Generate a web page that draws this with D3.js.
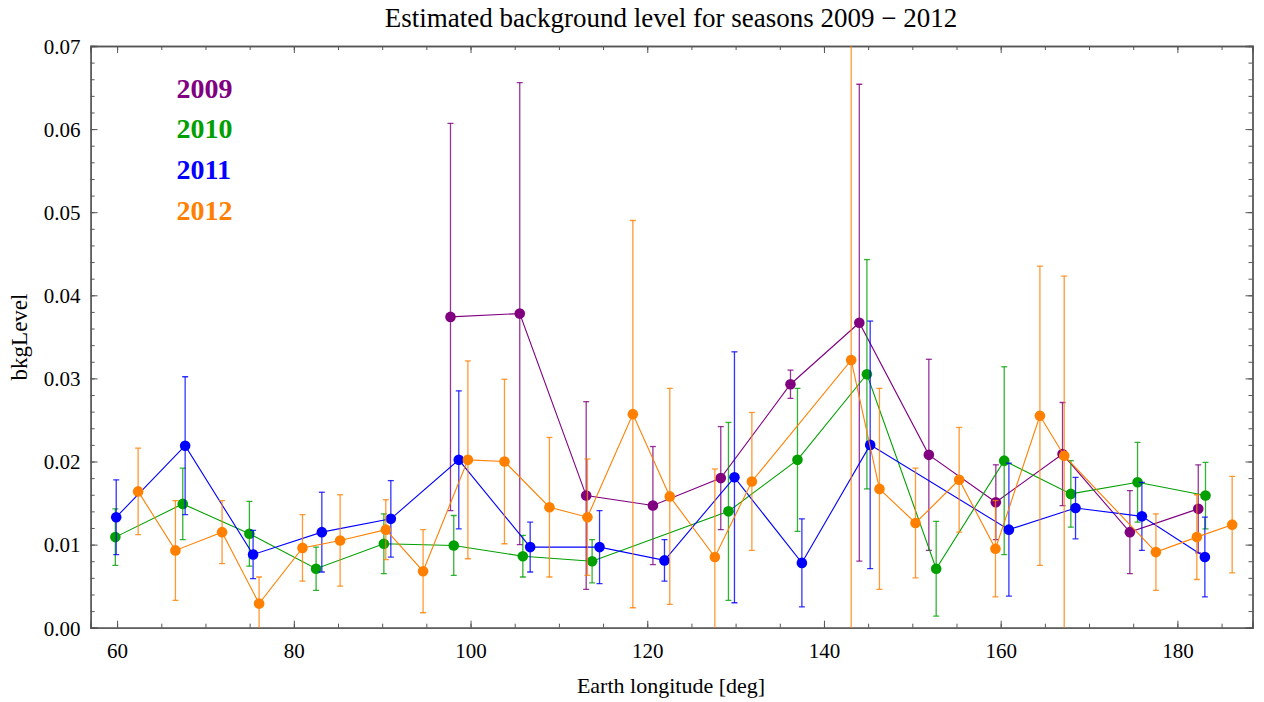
<!DOCTYPE html>
<html><head><meta charset="utf-8">
<script src="https://cdn.jsdelivr.net/npm/d3@7"></script>
<style>body{margin:0;background:#fff}svg{display:block}text{font-family:"Liberation Serif","DejaVu Serif",serif}</style>
</head><body>
<svg id="c" width="1264" height="702"></svg>
<script>
// ---- data ----
const lon2009 = [97.73, 105.57, 113.09, 120.64, 128.32, 136.21, 144.0, 151.87, 159.45, 167.0, 174.62, 182.36];
const val2009 = [0.0374, 0.0378, 0.0159, 0.0147, 0.0180, 0.0293, 0.0367, 0.0208, 0.0151, 0.0209, 0.0115, 0.0143];
const err2009 = [0.0233, 0.0278, 0.0113, 0.0071, 0.0062, 0.0017, 0.0287, 0.0115, 0.0045, 0.0062, 0.0050, 0.0053];

const lon2010 = [59.8, 67.43, 74.97, 82.52, 90.19, 98.1, 105.92, 113.76, 129.19, 137.0, 144.86, 152.7, 160.4, 167.94, 175.49, 183.18];
const val2010 = [0.0109, 0.0149, 0.0113, 0.0071, 0.0101, 0.0099, 0.0086, 0.0080, 0.0140, 0.0202, 0.0305, 0.0071, 0.0201, 0.0161, 0.0175, 0.0159];
const err2010 = [0.0034, 0.0043, 0.0039, 0.0026, 0.0036, 0.0036, 0.0025, 0.0026, 0.0107, 0.0086, 0.0138, 0.0057, 0.0113, 0.0040, 0.0048, 0.0040];

const lon2011 = [59.9, 67.7, 75.39, 83.17, 90.98, 98.67, 106.75, 114.6, 121.95, 129.87, 137.5, 145.23, 160.93, 168.47, 175.98, 183.11];
const val2011 = [0.0133, 0.0219, 0.0088, 0.0115, 0.0131, 0.0202, 0.0097, 0.0097, 0.0081, 0.0181, 0.0078, 0.0220, 0.0118, 0.0144, 0.0134, 0.0085];
const err2011 = [0.0045, 0.0083, 0.0029, 0.0048, 0.0046, 0.0083, 0.0030, 0.0044, 0.0025, 0.0151, 0.0053, 0.0149, 0.0080, 0.0037, 0.0041, 0.0048];

const lon2012 = [62.38, 66.6, 71.88, 76.07, 80.98, 85.24, 90.41, 94.63, 99.7, 103.84, 108.93, 113.23, 118.37, 122.55, 127.65, 131.84, 143.08, 146.28, 150.36, 155.3, 159.41, 164.44, 167.19, 177.57, 182.2, 186.2];
const val2012 = [0.0164, 0.0093, 0.0115, 0.0029, 0.0096, 0.0105, 0.0118, 0.0068, 0.0202, 0.0200, 0.0145, 0.0133, 0.0257, 0.0158, 0.0085, 0.0176, 0.0322, 0.0167, 0.0126, 0.0178, 0.0095, 0.0255, 0.0207, 0.0091, 0.0109, 0.0124];
const err2012 = [0.0052, 0.0060, 0.0038, 0.0032, 0.0040, 0.0055, 0.0036, 0.0050, 0.0119, 0.0099, 0.0084, 0.0070, 0.0233, 0.0130, 0.0106, 0.0083, 0.0450, 0.0121, 0.0066, 0.0063, 0.0058, 0.0180, 0.0216, 0.0046, 0.0051, 0.0058];

const seasons = ["2009", "2010", "2011", "2012"];
const colors = ["#800080", "#00a000", "#0000ff", "#ff8000"];
const xTicks = [60, 80, 100, 120, 140, 160, 180];
const yTicks = [0.00, 0.01, 0.02, 0.03, 0.04, 0.05, 0.06, 0.07];
const titleText = "Estimated background level for seasons 2009 \u2212 2012";
const xLabel = "Earth longitude [deg]";
const yLabel = "bkgLevel";

const series = [
  {name: seasons[0], lon: lon2009, val: val2009, err: err2009},
  {name: seasons[1], lon: lon2010, val: val2010, err: err2010},
  {name: seasons[2], lon: lon2011, val: val2011, err: err2011},
  {name: seasons[3], lon: lon2012, val: val2012, err: err2012}
];

// ---- layout ----
const L = 90.6, R = 1252.5, T = 46, B = 627.7;
const x = d3.scaleLinear().domain([57.0, 188.5]).range([L, R]);
const y = d3.scaleLinear().domain([0, 0.07]).range([B, T]);

const svg = d3.select("#c");
const frameColor = "#555";
const serif = "'Liberation Serif', 'DejaVu Serif', serif";

svg.append("defs").append("clipPath").attr("id", "clip")
  .append("rect").attr("x", L).attr("y", T).attr("width", R - L).attr("height", B - T);

const xMinor = d3.range(60, 188, 5);
const yMinor = d3.range(0, 0.0701, 0.002);
function styleAxis(g) {
  g.attr("font-family", serif);
  g.select(".domain").attr("stroke", frameColor).attr("stroke-width", 1.3);
  g.selectAll(".tick line").attr("stroke", frameColor);
  g.selectAll(".tick text").attr("fill", "#000").style("font-size", "21px").style("font-family", serif);
}
// minor
svg.append("g").attr("transform", `translate(0,${B})`).call(d3.axisBottom(x).tickValues(xMinor).tickSize(-4).tickFormat("")).call(styleAxis);
svg.append("g").attr("transform", `translate(0,${T})`).call(d3.axisTop(x).tickValues(xMinor).tickSize(-4).tickFormat("")).call(styleAxis);
svg.append("g").attr("transform", `translate(${L},0)`).call(d3.axisLeft(y).tickValues(yMinor).tickSize(-4).tickFormat("")).call(styleAxis);
svg.append("g").attr("transform", `translate(${R},0)`).call(d3.axisRight(y).tickValues(yMinor).tickSize(-4).tickFormat("")).call(styleAxis);
// major
svg.append("g").attr("transform", `translate(0,${B})`).call(d3.axisBottom(x).tickValues(xTicks).tickSize(-7).tickPadding(15).tickFormat(d3.format("d"))).call(styleAxis);
svg.append("g").attr("transform", `translate(0,${T})`).call(d3.axisTop(x).tickValues(xTicks).tickSize(-7).tickFormat("")).call(styleAxis);
const gy = svg.append("g").attr("transform", `translate(${L},0)`).call(d3.axisLeft(y).tickValues(yTicks).tickSize(-7).tickPadding(10).tickFormat(d3.format(".2f"))).call(styleAxis);
svg.append("g").attr("transform", `translate(${R},0)`).call(d3.axisRight(y).tickValues(yTicks).tickSize(-7).tickFormat("")).call(styleAxis);
gy.selectAll(".tick text").attr("dy", "0.35em");

// series
const plot = svg.append("g").attr("clip-path", "url(#clip)");
series.forEach((s, i) => {
  const c = colors[i];
  const pts = s.lon.map((lo, j) => ({lo, v: s.val[j], e: s.err[j]}));
  const g = plot.append("g");
  g.append("path").datum(pts)
    .attr("d", d3.line().x(d => x(d.lo)).y(d => y(d.v)))
    .attr("fill", "none").attr("stroke", c).attr("stroke-width", 1.1);
  const eb = g.append("g").attr("stroke", c).attr("stroke-width", 1.3).attr("stroke-opacity", 0.8);
  pts.forEach(d => {
    const xx = x(d.lo), y1 = y(d.v + d.e), y0 = y(d.v - d.e);
    eb.append("line").attr("x1", xx).attr("x2", xx).attr("y1", y1).attr("y2", y0);
    eb.append("line").attr("x1", xx - 3).attr("x2", xx + 3).attr("y1", y1).attr("y2", y1);
    eb.append("line").attr("x1", xx - 3).attr("x2", xx + 3).attr("y1", y0).attr("y2", y0);
  });
  g.selectAll("circle").data(pts).enter().append("circle")
    .attr("cx", d => x(d.lo)).attr("cy", d => y(d.v)).attr("r", 5.3).attr("fill", c);
});

// legend
seasons.forEach((s, i) => {
  svg.append("text").attr("x", 176.5).attr("y", 97.5 + i * 40.8)
    .attr("fill", colors[i]).style("font-size", "28px").style("font-weight", "bold").text(s);
});

// title & labels
svg.append("text").attr("x", 671).attr("y", 27).attr("text-anchor", "middle")
  .style("font-size", "27px").attr("fill", "#000").text(titleText);
svg.append("text").attr("x", 671).attr("y", 693).attr("text-anchor", "middle")
  .style("font-size", "22px").attr("fill", "#000").text(xLabel);
svg.append("text").attr("transform", "translate(27,337) rotate(-90)").attr("text-anchor", "middle")
  .style("font-size", "23px").attr("fill", "#000").text(yLabel);
</script>
</body></html>
